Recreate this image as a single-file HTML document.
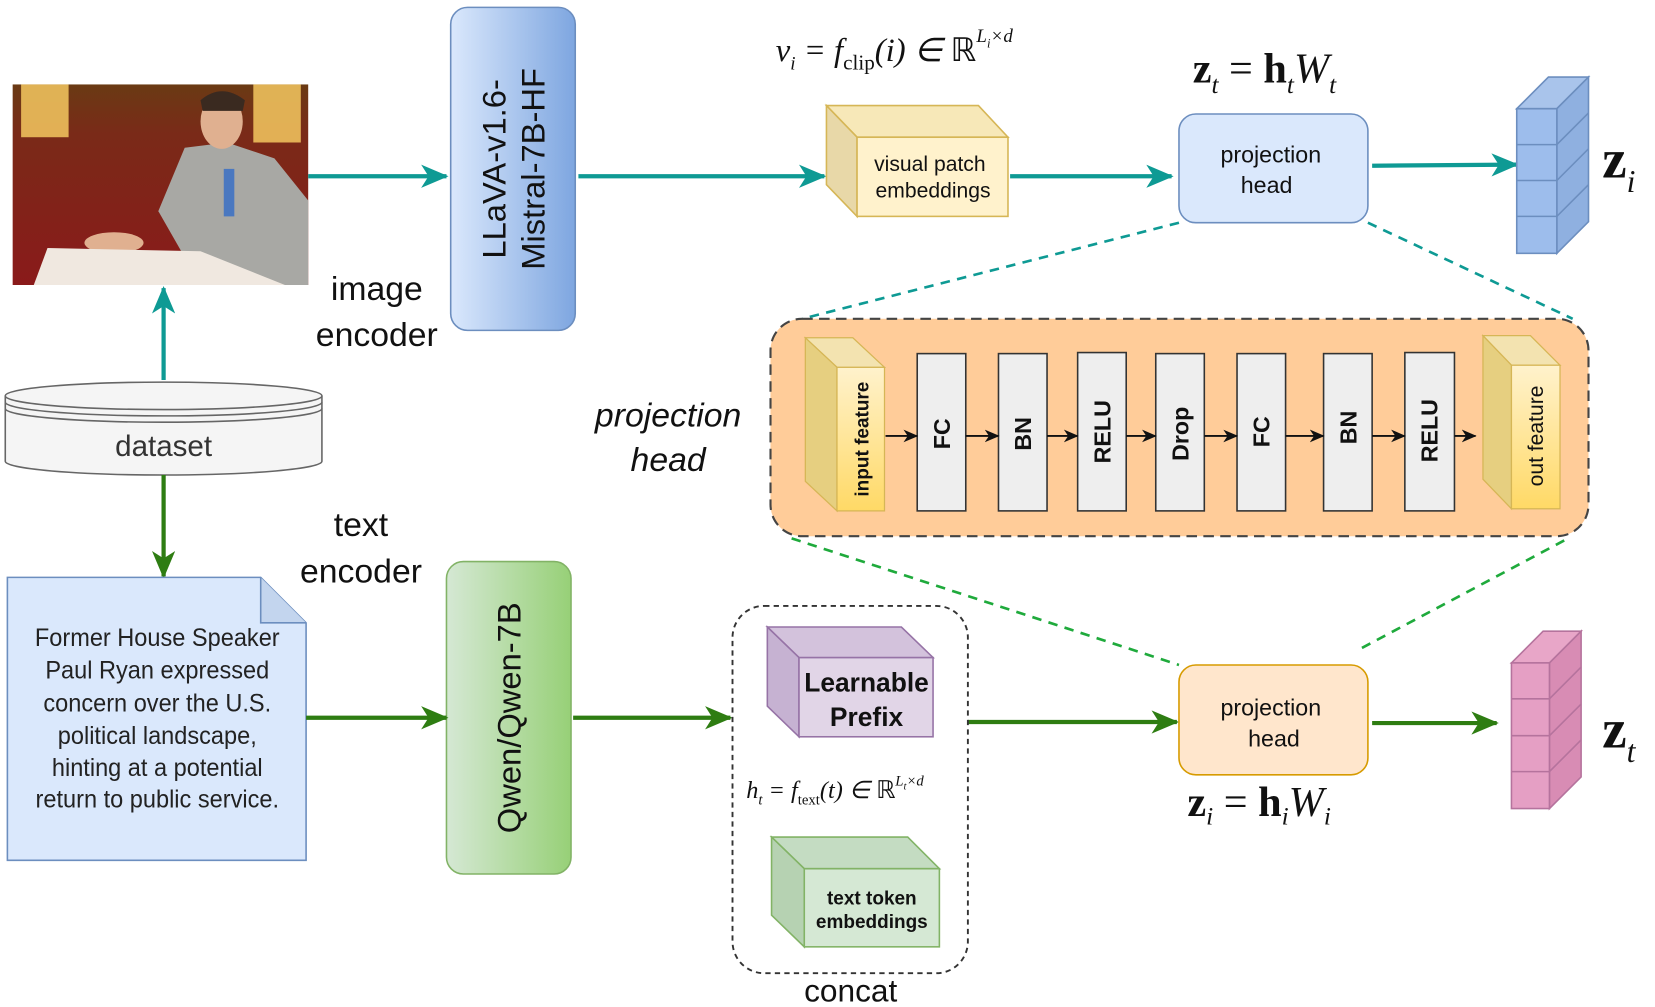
<!DOCTYPE html>
<html><head><meta charset="utf-8"><style>
html,body{margin:0;padding:0;background:#fff;width:1655px;height:1007px;overflow:hidden}
svg{display:block}
text{font-family:"Liberation Sans",sans-serif}
.serif{font-family:"Liberation Serif",serif}
</style></head><body>
<svg width="1655" height="1007" viewBox="0 0 1568 954" preserveAspectRatio="none" xmlns="http://www.w3.org/2000/svg">
<defs>
<marker id="at" viewBox="0 0 26 22" refX="24" refY="11" markerWidth="26" markerHeight="22" orient="auto" markerUnits="userSpaceOnUse"><path d="M0,0 L26,11 L0,22 L7,11 Z" fill="#0e9a94"/></marker>
<marker id="ag" viewBox="0 0 26 22" refX="24" refY="11" markerWidth="26" markerHeight="22" orient="auto" markerUnits="userSpaceOnUse"><path d="M0,0 L26,11 L0,22 L7,11 Z" fill="#2e7d12"/></marker>
<marker id="ak" viewBox="0 0 14 12" refX="13" refY="6" markerWidth="14" markerHeight="12" orient="auto" markerUnits="userSpaceOnUse"><path d="M0,0 L14,6 L0,12 L4,6 Z" fill="#111"/></marker>
<linearGradient id="llava" x1="0" y1="0" x2="1" y2="0"><stop offset="0" stop-color="#dae8fc"/><stop offset="1" stop-color="#7ea6e0"/></linearGradient>
<linearGradient id="qwen" x1="0" y1="0" x2="1" y2="0"><stop offset="0" stop-color="#d5e8d4"/><stop offset="1" stop-color="#97d077"/></linearGradient>
<linearGradient id="yel" x1="0" y1="0" x2="0" y2="1"><stop offset="0" stop-color="#fff2cc"/><stop offset="1" stop-color="#ffd966"/></linearGradient>
<linearGradient id="photo" x1="0" y1="0" x2="0" y2="1"><stop offset="0" stop-color="#6a3a14"/><stop offset="0.25" stop-color="#7a2a18"/><stop offset="1" stop-color="#8a1a1a"/></linearGradient>
</defs>

<!-- photo -->
<rect x="12" y="80" width="280" height="190" fill="url(#photo)"/>
<rect x="20" y="80" width="45" height="50" fill="#f5c860" opacity="0.85"/>
<rect x="240" y="80" width="45" height="55" fill="#f5c860" opacity="0.85"/>
<path d="M150,200 L175,140 L215,135 L260,150 L292,190 L292,270 L190,270 Z" fill="#a8a8a4"/>
<ellipse cx="210" cy="115" rx="20" ry="26" fill="#e0b090"/>
<path d="M190,95 Q210,78 232,95 L230,105 L192,105 Z" fill="#3a2a20"/>
<rect x="212" y="160" width="10" height="45" fill="#4a78c0"/>
<ellipse cx="108" cy="230" rx="28" ry="10" fill="#e0b090"/>
<path d="M32,270 L45,235 L190,238 L270,270 Z" fill="#f0e8e0"/>

<!-- dataset cylinder -->
<path d="M5,375 L5,437 A150,13 0 0 0 305,437 L305,375" fill="#f5f5f5" stroke="#666" stroke-width="1.5"/>
<ellipse cx="155" cy="375" rx="150" ry="13" fill="#f5f5f5" stroke="#666" stroke-width="1.5"/>
<path d="M5,381 A150,13 0 0 0 305,381 M5,387 A150,13 0 0 0 305,387" fill="none" stroke="#666" stroke-width="1.5"/>
<text x="155" y="432" font-size="28" text-anchor="middle" fill="#333">dataset</text>

<line x1="155" y1="360" x2="155" y2="273" stroke="#0e9a94" stroke-width="4" marker-end="url(#at)"/>
<line x1="155" y1="450" x2="155" y2="546" stroke="#2e7d12" stroke-width="4" marker-end="url(#ag)"/>

<!-- document -->
<path d="M7,547 L247,547 L290,590 L290,815 L7,815 Z" fill="#dae8fc" stroke="#6c8ebf" stroke-width="1.5"/>
<path d="M247,547 L247,590 L290,590" fill="#c3d5ee" stroke="#6c8ebf" stroke-width="1.5"/>
<g font-size="24" text-anchor="middle" fill="#222" transform="translate(149,0) scale(0.93,1) translate(-149,0)">
<text x="149" y="612">Former House Speaker</text>
<text x="149" y="643">Paul Ryan expressed</text>
<text x="149" y="674">concern over the U.S.</text>
<text x="149" y="705">political landscape,</text>
<text x="149" y="735">hinting at a potential</text>
<text x="149" y="765">return to public service.</text>
</g>

<g font-size="32" text-anchor="middle" fill="#111">
<text x="357" y="284">image</text><text x="357" y="328">encoder</text>
<text x="342" y="508">text</text><text x="342" y="552">encoder</text>
</g>

<!-- LLaVA -->
<rect x="427" y="7" width="118" height="306" rx="16" fill="url(#llava)" stroke="#6c8ebf" stroke-width="1.5"/>
<g transform="translate(486,160) rotate(-90)" font-size="31" text-anchor="middle" fill="#111">
<text x="0" y="-7">LLaVA-v1.6-</text><text x="0" y="30">Mistral-7B-HF</text></g>

<!-- Qwen -->
<rect x="423" y="532" width="118" height="296" rx="16" fill="url(#qwen)" stroke="#82b366" stroke-width="1.5"/>
<text transform="translate(493,680) rotate(-90)" font-size="31" text-anchor="middle" fill="#111">Qwen/Qwen-7B</text>

<!-- teal arrows -->
<line x1="292" y1="167" x2="423" y2="167" stroke="#0e9a94" stroke-width="4" marker-end="url(#at)"/>
<line x1="548" y1="167" x2="781" y2="167" stroke="#0e9a94" stroke-width="4" marker-end="url(#at)"/>
<line x1="957" y1="167" x2="1110" y2="167" stroke="#0e9a94" stroke-width="4" marker-end="url(#at)"/>
<line x1="1300" y1="157" x2="1437" y2="156" stroke="#0e9a94" stroke-width="4" marker-end="url(#at)"/>

<!-- visual patch cube -->
<path d="M783,100 L927,100 L955,130 L812,130 Z" fill="#f7e8b8" stroke="#d6b656" stroke-width="1.5"/>
<path d="M783,100 L812,130 L812,205 L783,175 Z" fill="#e8d8a8" stroke="#d6b656" stroke-width="1.5"/>
<rect x="812" y="130" width="143" height="75" fill="#fff2cc" stroke="#d6b656" stroke-width="1.5"/>
<text x="881" y="162" font-size="20" text-anchor="middle" fill="#111">visual patch</text>
<text x="884" y="187" font-size="20" text-anchor="middle" fill="#111">embeddings</text>

<!-- formulas -->
<text x="735" y="58" class="serif" font-size="31" font-style="italic" fill="#111">v<tspan font-size="18" dy="8">i</tspan><tspan dy="-8"> = f</tspan><tspan font-size="20" dy="8" font-style="normal">clip</tspan><tspan dy="-8">(i) ∈ </tspan><tspan font-style="normal">ℝ</tspan><tspan font-size="18" dy="-18">L<tspan font-size="12" dy="5">i</tspan><tspan dy="-5">×d</tspan></tspan></text>
<text x="1130" y="78" class="serif" font-size="40" fill="#111"><tspan font-weight="bold">z</tspan><tspan font-size="24" dy="10" font-style="italic">t</tspan><tspan dy="-10"> = </tspan><tspan font-weight="bold">h</tspan><tspan font-size="24" dy="10" font-style="italic">t</tspan><tspan dy="-10" font-style="italic">W</tspan><tspan font-size="24" dy="10" font-style="italic">t</tspan></text>
<text x="1125" y="773" class="serif" font-size="40" fill="#111"><tspan font-weight="bold">z</tspan><tspan font-size="24" dy="8" font-style="italic">i</tspan><tspan dy="-8"> = </tspan><tspan font-weight="bold">h</tspan><tspan font-size="24" dy="8" font-style="italic">i</tspan><tspan dy="-8" font-style="italic">W</tspan><tspan font-size="24" dy="8" font-style="italic">i</tspan></text>

<!-- projection head top -->
<rect x="1117" y="108" width="179" height="103" rx="16" fill="#dae8fc" stroke="#6c8ebf" stroke-width="1.5"/>
<text x="1204" y="154" font-size="22" text-anchor="middle" fill="#111">projection</text>
<text x="1200" y="183" font-size="22" text-anchor="middle" fill="#111">head</text>

<!-- blue stack cube -->
<path d="M1437,103 L1467,73 L1505,73 L1475,103 Z" fill="#a9c4eb" stroke="#6c8ebf" stroke-width="1.5"/>
<path d="M1475,103 L1505,73 L1505,210 L1475,240 Z" fill="#8fb0e0" stroke="#6c8ebf" stroke-width="1.5"/>
<rect x="1437" y="103" width="38" height="137" fill="#9dbdec" stroke="#6c8ebf" stroke-width="1.5"/>
<path d="M1437,137 L1475,137 L1505,107 M1437,171 L1475,171 L1505,141 M1437,205 L1475,205 L1505,175" fill="none" stroke="#6c8ebf" stroke-width="1.5"/>
<text x="1518" y="168" class="serif" font-size="52" font-weight="bold" fill="#111">z<tspan font-size="30" font-weight="normal" font-style="italic" dy="14">i</tspan></text>

<!-- dashed teal -->
<line x1="1117" y1="211" x2="760" y2="302" stroke="#0e9a94" stroke-width="2.5" stroke-dasharray="9,7"/>
<line x1="1296" y1="211" x2="1490" y2="302" stroke="#0e9a94" stroke-width="2.5" stroke-dasharray="9,7"/>

<!-- orange container -->
<rect x="730" y="302" width="775" height="206" rx="30" fill="#ffcc99" stroke="#444" stroke-width="2" stroke-dasharray="10,6"/>
<text x="633" y="404" font-size="32" font-style="italic" text-anchor="middle" fill="#111">projection</text>
<text x="633" y="446" font-size="32" font-style="italic" text-anchor="middle" fill="#111">head</text>

<!-- input feature -->
<path d="M763,320 L808,320 L838,348 L793,348 Z" fill="#f3e3b0" stroke="#d6b656" stroke-width="1.2"/>
<path d="M763,320 L793,348 L793,484 L763,456 Z" fill="#e6cf80" stroke="#d6b656" stroke-width="1.2"/>
<rect x="793" y="348" width="45" height="136" fill="url(#yel)" stroke="#d6b656" stroke-width="1.2"/>
<text transform="translate(823,416) rotate(-90)" font-size="18" font-weight="bold" text-anchor="middle" fill="#111">input feature</text>
<!-- out feature -->
<path d="M1405,318 L1450,318 L1478,346 L1432,346 Z" fill="#f3e3b0" stroke="#d6b656" stroke-width="1.2"/>
<path d="M1405,318 L1432,346 L1432,482 L1405,454 Z" fill="#e6cf80" stroke="#d6b656" stroke-width="1.2"/>
<rect x="1432" y="346" width="46" height="136" fill="url(#yel)" stroke="#d6b656" stroke-width="1.2"/>
<text transform="translate(1462,413) rotate(-90)" font-size="20" text-anchor="middle" fill="#111">out feature</text>

<g fill="#eeeeee" stroke="#333" stroke-width="1.5">
<rect x="869" y="335" width="46" height="149"/><rect x="946" y="335" width="46" height="149"/>
<rect x="1021" y="334" width="46" height="150"/><rect x="1095" y="335" width="46" height="149"/>
<rect x="1172" y="335" width="46" height="149"/><rect x="1254" y="335" width="46" height="149"/>
<rect x="1331" y="334" width="47" height="150"/>
</g>
<g font-size="22" font-weight="bold" text-anchor="middle" fill="#111">
<text transform="translate(900,411) rotate(-90)">FC</text>
<text transform="translate(977,411) rotate(-90)">BN</text>
<text transform="translate(1052,409) rotate(-90)">RELU</text>
<text transform="translate(1126,411) rotate(-90)">Drop</text>
<text transform="translate(1203,409) rotate(-90)">FC</text>
<text transform="translate(1285,405) rotate(-90)">BN</text>
<text transform="translate(1362,408) rotate(-90)">RELU</text>
</g>
<g stroke="#111" stroke-width="1.8" marker-end="url(#ak)">
<line x1="839" y1="413" x2="869" y2="413"/><line x1="915" y1="413" x2="946" y2="413"/>
<line x1="992" y1="413" x2="1021" y2="413"/><line x1="1067" y1="413" x2="1095" y2="413"/>
<line x1="1141" y1="413" x2="1172" y2="413"/><line x1="1218" y1="413" x2="1254" y2="413"/>
<line x1="1300" y1="413" x2="1331" y2="413"/><line x1="1378" y1="413" x2="1398" y2="413"/>
</g>

<!-- green dashed -->
<line x1="750" y1="510" x2="1117" y2="630" stroke="#1faa3c" stroke-width="2.5" stroke-dasharray="9,7"/>
<line x1="1482" y1="512" x2="1290" y2="614" stroke="#1faa3c" stroke-width="2.5" stroke-dasharray="9,7"/>

<!-- green arrows -->
<line x1="290" y1="680" x2="423" y2="680" stroke="#2e7d12" stroke-width="4" marker-end="url(#ag)"/>
<line x1="543" y1="680" x2="692" y2="680" stroke="#2e7d12" stroke-width="4" marker-end="url(#ag)"/>
<line x1="917" y1="684" x2="1115" y2="684" stroke="#2e7d12" stroke-width="4" marker-end="url(#ag)"/>
<line x1="1300" y1="685" x2="1418" y2="685" stroke="#2e7d12" stroke-width="4" marker-end="url(#ag)"/>

<!-- concat -->
<rect x="694" y="574" width="223" height="348" rx="30" fill="none" stroke="#333" stroke-width="1.8" stroke-dasharray="5,4"/>
<text x="806" y="949" font-size="30" text-anchor="middle" fill="#111">concat</text>
<path d="M727,594 L854,594 L884,623 L757,623 Z" fill="#d3c2dc" stroke="#9673a6" stroke-width="1.5"/>
<path d="M727,594 L757,623 L757,698 L727,669 Z" fill="#c6b2d2" stroke="#9673a6" stroke-width="1.5"/>
<rect x="757" y="623" width="127" height="75" fill="#e1d5e7" stroke="#9673a6" stroke-width="1.5"/>
<text x="821" y="655" font-size="25" font-weight="bold" text-anchor="middle" fill="#111">Learnable</text>
<text x="821" y="688" font-size="25" font-weight="bold" text-anchor="middle" fill="#111">Prefix</text>
<text x="707" y="756" class="serif" font-size="23" font-style="italic" fill="#111">h<tspan font-size="14" dy="6">t</tspan><tspan dy="-6"> = f</tspan><tspan font-size="14" dy="6" font-style="normal">text</tspan><tspan dy="-6">(t) ∈ </tspan><tspan font-style="normal">ℝ</tspan><tspan font-size="14" dy="-12">L<tspan font-size="10" dy="4">t</tspan><tspan dy="-4">×d</tspan></tspan></text>
<path d="M731,793 L860,793 L890,823 L762,823 Z" fill="#c4dcc2" stroke="#82b366" stroke-width="1.5"/>
<path d="M731,793 L762,823 L762,897 L731,867 Z" fill="#b6d2b2" stroke="#82b366" stroke-width="1.5"/>
<rect x="762" y="823" width="128" height="74" fill="#d5e8d4" stroke="#82b366" stroke-width="1.5"/>
<text x="826" y="857" font-size="18" font-weight="bold" text-anchor="middle" fill="#111">text token</text>
<text x="826" y="879" font-size="18" font-weight="bold" text-anchor="middle" fill="#111">embeddings</text>

<!-- projection head bottom -->
<rect x="1117" y="630" width="179" height="104" rx="16" fill="#ffe6cc" stroke="#d79b00" stroke-width="1.5"/>
<text x="1204" y="678" font-size="22" text-anchor="middle" fill="#111">projection</text>
<text x="1207" y="707" font-size="22" text-anchor="middle" fill="#111">head</text>

<!-- pink stack cube -->
<path d="M1432,628 L1462,598 L1498,598 L1468,628 Z" fill="#e8a6c8" stroke="#b5739d" stroke-width="1.5"/>
<path d="M1468,628 L1498,598 L1498,736 L1468,766 Z" fill="#d88cb4" stroke="#b5739d" stroke-width="1.5"/>
<rect x="1432" y="628" width="36" height="138" fill="#e59fc4" stroke="#b5739d" stroke-width="1.5"/>
<path d="M1432,662 L1468,662 L1498,632 M1432,697 L1468,697 L1498,667 M1432,731 L1468,731 L1498,701" fill="none" stroke="#b5739d" stroke-width="1.5"/>
<text x="1518" y="708" class="serif" font-size="52" font-weight="bold" fill="#111">z<tspan font-size="30" font-weight="normal" font-style="italic" dy="14">t</tspan></text>
</svg>
</body></html>
